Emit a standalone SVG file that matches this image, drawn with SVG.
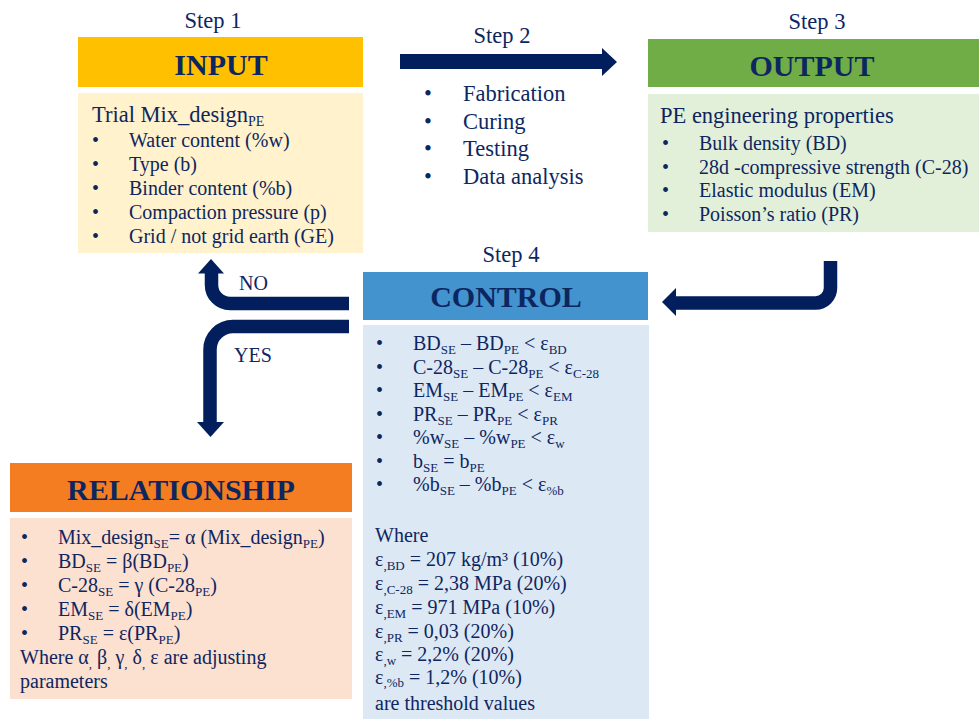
<svg xmlns="http://www.w3.org/2000/svg" width="979" height="719" viewBox="0 0 979 719">
<style>
text{font-family:"Liberation Serif","Times New Roman",serif;fill:#0E2660}
.step{font-size:22.5px;text-anchor:middle}
.title{font-size:30px;font-weight:bold;text-anchor:middle}
.lead{font-size:22.5px}
.t{font-size:20px}
.s{font-size:13px}
.s2{font-size:14px}
.arr{fill:none;stroke:#021E5C;stroke-width:13.5}
.head{fill:#021E5C}
</style>
<rect width="979" height="719" fill="#ffffff"/>

<g id="input">
<text class="step" x="213" y="28">Step 1</text>
<rect x="78" y="37" width="285" height="50" fill="#FFC000"/>
<text class="title" x="221" y="75">INPUT</text>
<rect x="78" y="93" width="285" height="160" fill="#FFF2CC"/>
<text class="lead" x="92" y="122">Trial Mix_design<tspan class="s2" dy="4">PE</tspan></text>
<text class="t" x="92" y="147">•</text><text class="t" x="129" y="147">Water content (%w)</text>
<text class="t" x="92" y="171">•</text><text class="t" x="129" y="171">Type (b)</text>
<text class="t" x="92" y="195">•</text><text class="t" x="129" y="195">Binder content (%b)</text>
<text class="t" x="92" y="219">•</text><text class="t" x="129" y="219">Compaction pressure (p)</text>
<text class="t" x="92" y="243">•</text><text class="t" x="129" y="243">Grid / not grid earth (GE)</text>
</g>

<g id="step2">
<text class="step" x="502" y="43">Step 2</text>
<text class="lead" x="424" y="101">•</text><text class="lead" x="463" y="101">Fabrication</text>
<text class="lead" x="424" y="129">•</text><text class="lead" x="463" y="129">Curing</text>
<text class="lead" x="424" y="156">•</text><text class="lead" x="463" y="156">Testing</text>
<text class="lead" x="424" y="184">•</text><text class="lead" x="463" y="184">Data analysis</text>
</g>

<g id="output">
<text class="step" x="817" y="29">Step 3</text>
<rect x="648" y="39" width="331" height="48" fill="#70AD47"/>
<text class="title" x="812" y="76">OUTPUT</text>
<rect x="648" y="94" width="331" height="138" fill="#E2F0D9"/>
<text class="lead" x="660" y="123">PE engineering properties</text>
<text class="t" x="662" y="150">•</text><text class="t" x="699" y="150">Bulk density (BD)</text>
<text class="t" x="662" y="174">•</text><text class="t" x="699" y="174">28d -compressive strength (C-28)</text>
<text class="t" x="662" y="197">•</text><text class="t" x="699" y="197">Elastic modulus (EM)</text>
<text class="t" x="662" y="221">•</text><text class="t" x="699" y="221">Poisson’s ratio (PR)</text>
</g>

<g id="control">
<text class="step" x="511" y="262">Step 4</text>
<rect x="363" y="272" width="285" height="48" fill="#4393CF"/>
<text class="title" x="506" y="307">CONTROL</text>
<rect x="363" y="325" width="286" height="394" fill="#DDE8F5"/>
<text class="t" x="376" y="350">•</text><text class="t" x="413" y="350">BD<tspan class="s" dy="4">SE</tspan><tspan dy="-4"> – BD</tspan><tspan class="s" dy="4">PE</tspan><tspan dy="-4"> &lt; ε</tspan><tspan class="s" dy="4">BD</tspan></text>
<text class="t" x="376" y="373.5">•</text><text class="t" x="413" y="373.5">C-28<tspan class="s" dy="4">SE</tspan><tspan dy="-4"> – C-28</tspan><tspan class="s" dy="4">PE</tspan><tspan dy="-4"> &lt; ε</tspan><tspan class="s" dy="4">C-28</tspan></text>
<text class="t" x="376" y="397">•</text><text class="t" x="413" y="397">EM<tspan class="s" dy="4">SE</tspan><tspan dy="-4"> – EM</tspan><tspan class="s" dy="4">PE</tspan><tspan dy="-4"> &lt; ε</tspan><tspan class="s" dy="4">EM</tspan></text>
<text class="t" x="376" y="420.5">•</text><text class="t" x="413" y="420.5">PR<tspan class="s" dy="4">SE</tspan><tspan dy="-4"> – PR</tspan><tspan class="s" dy="4">PE</tspan><tspan dy="-4"> &lt; ε</tspan><tspan class="s" dy="4">PR</tspan></text>
<text class="t" x="376" y="444">•</text><text class="t" x="413" y="444">%w<tspan class="s" dy="4">SE</tspan><tspan dy="-4"> – %w</tspan><tspan class="s" dy="4">PE</tspan><tspan dy="-4"> &lt; ε</tspan><tspan class="s" dy="4">w</tspan></text>
<text class="t" x="376" y="467.5">•</text><text class="t" x="413" y="467.5">b<tspan class="s" dy="4">SE</tspan><tspan dy="-4"> = b</tspan><tspan class="s" dy="4">PE</tspan></text>
<text class="t" x="376" y="491">•</text><text class="t" x="413" y="491">%b<tspan class="s" dy="4">SE</tspan><tspan dy="-4"> – %b</tspan><tspan class="s" dy="4">PE</tspan><tspan dy="-4"> &lt; ε</tspan><tspan class="s" dy="4">%b</tspan></text>
<text class="t" x="375" y="542">Where</text>
<text class="t" x="375" y="566">ε<tspan class="s" dy="3.5">,BD</tspan><tspan dy="-3.5"> = 207 kg/m³ (10%)</tspan></text>
<text class="t" x="375" y="590">ε<tspan class="s" dy="3.5">,C-28</tspan><tspan dy="-3.5"> = 2,38 MPa (20%)</tspan></text>
<text class="t" x="375" y="614">ε<tspan class="s" dy="3.5">,EM</tspan><tspan dy="-3.5"> = 971 MPa (10%)</tspan></text>
<text class="t" x="375" y="638">ε<tspan class="s" dy="3.5">,PR</tspan><tspan dy="-3.5"> = 0,03 (20%)</tspan></text>
<text class="t" x="375" y="661">ε<tspan class="s" dy="3.5">,w</tspan><tspan dy="-3.5"> = 2,2% (20%)</tspan></text>
<text class="t" x="375" y="684">ε<tspan class="s" dy="3">,%b</tspan><tspan dy="-3"> = 1,2% (10%)</tspan></text>
<text class="t" x="375" y="710">are threshold values</text>
</g>

<g id="relationship">
<rect x="10" y="463" width="342" height="49" fill="#F47D22"/>
<text class="title" x="181" y="500">RELATIONSHIP</text>
<rect x="10" y="518" width="342" height="181" fill="#FCE0D0"/>
<text class="t" x="21" y="544">•</text><text class="t" x="58" y="544">Mix_design<tspan class="s" dy="4">SE</tspan><tspan dy="-4">= α (Mix_design</tspan><tspan class="s" dy="4">PE</tspan><tspan dy="-4">)</tspan></text>
<text class="t" x="21" y="568">•</text><text class="t" x="58" y="568">BD<tspan class="s" dy="4">SE</tspan><tspan dy="-4"> = β(BD</tspan><tspan class="s" dy="4">PE</tspan><tspan dy="-4">)</tspan></text>
<text class="t" x="21" y="592">•</text><text class="t" x="58" y="592">C-28<tspan class="s" dy="4">SE</tspan><tspan dy="-4"> = γ (C-28</tspan><tspan class="s" dy="4">PE</tspan><tspan dy="-4">)</tspan></text>
<text class="t" x="21" y="616">•</text><text class="t" x="58" y="616">EM<tspan class="s" dy="4">SE</tspan><tspan dy="-4"> = δ(EM</tspan><tspan class="s" dy="4">PE</tspan><tspan dy="-4">)</tspan></text>
<text class="t" x="21" y="640">•</text><text class="t" x="58" y="640">PR<tspan class="s" dy="4">SE</tspan><tspan dy="-4"> = ε(PR</tspan><tspan class="s" dy="4">PE</tspan><tspan dy="-4">)</tspan></text>
<text class="t" x="20" y="664">Where α<tspan class="s" dy="4">,</tspan><tspan dy="-4"> β</tspan><tspan class="s" dy="4">,</tspan><tspan dy="-4"> γ</tspan><tspan class="s" dy="4">,</tspan><tspan dy="-4"> δ</tspan><tspan class="s" dy="4">,</tspan><tspan dy="-4"> ε are adjusting</tspan></text>
<text class="t" x="20" y="688">parameters</text>
</g>

<g id="connectors">
<polygon class="head" points="400,54 602,54 602,48 617,62 602,76 602,69 400,69"/>
<path class="arr" d="M830.5 261 V288 A15 15 0 0 1 815.5 303 H675"/>
<polygon class="head" points="676,288 676,316 662,302"/>
<path class="arr" d="M349 303.5 H230 A18.5 18.5 0 0 1 211.5 285 V272"/>
<polygon class="head" points="198,273.5 211,259 224,273.5"/>
<text class="t" x="239" y="290">NO</text>
<path class="arr" d="M349 326.5 H233 A23 23 0 0 0 210 349.5 V423"/>
<polygon class="head" points="197,422 224,422 210.5,437"/>
<text class="t" x="234" y="362">YES</text>
</g>
</svg>
